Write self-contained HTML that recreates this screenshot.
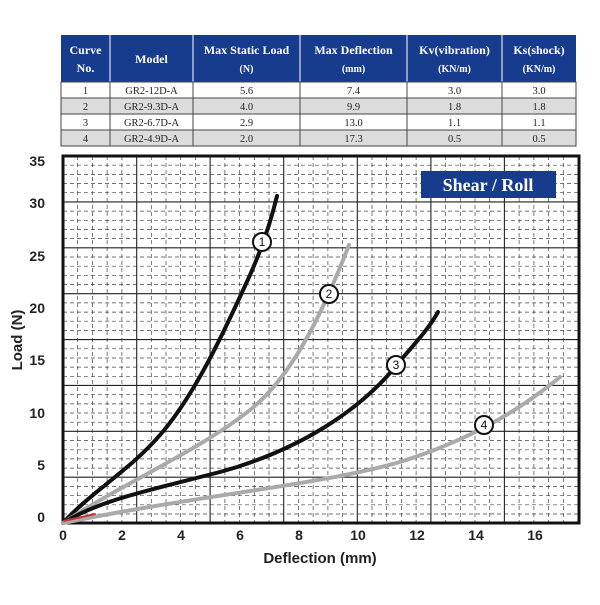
<!DOCTYPE html>
<html><head><meta charset="utf-8"><style>
body{margin:0;background:#fff;width:600px;height:600px;overflow:hidden}
</style></head><body>
<svg width="600" height="600" viewBox="0 0 600 600" xmlns="http://www.w3.org/2000/svg">
<!-- Table -->
<rect x="61" y="35" width="515" height="47" fill="#173c8e"/>
<rect x="61" y="98" width="515" height="16" fill="#dcdcdc"/>
<rect x="61" y="130" width="515" height="16" fill="#dcdcdc"/>
<g stroke="#fff" stroke-width="1">
<line x1="110" y1="35" x2="110" y2="82"/><line x1="193" y1="35" x2="193" y2="82"/><line x1="300" y1="35" x2="300" y2="82"/><line x1="407" y1="35" x2="407" y2="82"/><line x1="502" y1="35" x2="502" y2="82"/>
</g>
<g stroke="#444" stroke-width="1" fill="none">
<rect x="61" y="82" width="515" height="64"/>
<line x1="61" y1="98" x2="576" y2="98"/><line x1="61" y1="114" x2="576" y2="114"/><line x1="61" y1="130" x2="576" y2="130"/>
<line x1="110" y1="82" x2="110" y2="146"/><line x1="193" y1="82" x2="193" y2="146"/><line x1="300" y1="82" x2="300" y2="146"/><line x1="407" y1="82" x2="407" y2="146"/><line x1="502" y1="82" x2="502" y2="146"/>
</g>
<g font-family="Liberation Serif, serif" font-weight="bold" fill="#fff" text-anchor="middle" font-size="12">
<text x="85.5" y="54">Curve</text><text x="85.5" y="72">No.</text>
<text x="151.5" y="63">Model</text>
<text x="246.5" y="54">Max Static Load</text><text x="246.5" y="72" font-size="10">(N)</text>
<text x="353.5" y="54">Max Deflection</text><text x="353.5" y="72" font-size="10">(mm)</text>
<text x="454.5" y="54">Kv(vibration)</text><text x="454.5" y="72" font-size="10">(KN/m)</text>
<text x="539" y="54">Ks(shock)</text><text x="539" y="72" font-size="10">(KN/m)</text>
</g>
<g font-family="Liberation Serif, serif" fill="#222" text-anchor="middle" font-size="10.5">
<text x="85.5" y="94">1</text><text x="151.5" y="94">GR2-12D-A</text><text x="246.5" y="94">5.6</text><text x="353.5" y="94">7.4</text><text x="454.5" y="94">3.0</text><text x="539" y="94">3.0</text>
<text x="85.5" y="110">2</text><text x="151.5" y="110">GR2-9.3D-A</text><text x="246.5" y="110">4.0</text><text x="353.5" y="110">9.9</text><text x="454.5" y="110">1.8</text><text x="539" y="110">1.8</text>
<text x="85.5" y="126">3</text><text x="151.5" y="126">GR2-6.7D-A</text><text x="246.5" y="126">2.9</text><text x="353.5" y="126">13.0</text><text x="454.5" y="126">1.1</text><text x="539" y="126">1.1</text>
<text x="85.5" y="142">4</text><text x="151.5" y="142">GR2-4.9D-A</text><text x="246.5" y="142">2.0</text><text x="353.5" y="142">17.3</text><text x="454.5" y="142">0.5</text><text x="539" y="142">0.5</text>
</g>
<!-- Grid -->
<g stroke="#444" stroke-width="0.7" stroke-dasharray="4,3" fill="none">
<path d="M77.7 156V523M92.4 156V523M107.1 156V523M121.9 156V523M151.3 156V523M166 156V523M180.7 156V523M195.4 156V523M224.9 156V523M239.6 156V523M254.3 156V523M269 156V523M298.4 156V523M313.1 156V523M327.9 156V523M342.6 156V523M372 156V523M386.7 156V523M401.4 156V523M416.1 156V523M445.6 156V523M460.3 156V523M475 156V523M489.7 156V523M519.1 156V523M533.9 156V523M548.6 156V523M563.3 156V523"/>
<path d="M63 165.2H579M63 174.4H579M63 183.5H579M63 192.7H579M63 211.1H579M63 220.3H579M63 229.4H579M63 238.6H579M63 257H579M63 266.2H579M63 275.3H579M63 284.5H579M63 302.9H579M63 312.1H579M63 321.2H579M63 330.4H579M63 348.8H579M63 358H579M63 367.1H579M63 376.3H579M63 394.7H579M63 403.9H579M63 413H579M63 422.2H579M63 440.6H579M63 449.8H579M63 458.9H579M63 468.1H579M63 486.5H579M63 495.7H579M63 504.8H579M63 514H579"/>
</g>
<g stroke="#222" stroke-width="1.1" fill="none">
<path d="M136.7 156V523M210.1 156V523M283.7 156V523M357.3 156V523M430.9 156V523M504.4 156V523"/>
<path d="M63 201.9H579M63 247.8H579M63 293.7H579M63 339.6H579M63 385.4H579M63 431.3H579M63 477.2H579"/>
</g>
<rect x="63" y="156" width="516" height="367" fill="none" stroke="#111" stroke-width="3"/>
<!-- axis labels -->
<g font-family="Liberation Sans, sans-serif" font-weight="bold" font-size="14" fill="#222" text-anchor="end">
<text x="45" y="522">0</text><text x="45" y="470">5</text><text x="45" y="418">10</text><text x="45" y="365">15</text><text x="45" y="313">20</text><text x="45" y="261">25</text><text x="45" y="208">30</text><text x="45" y="166">35</text>
</g>
<g font-family="Liberation Sans, sans-serif" font-weight="bold" font-size="14" fill="#222" text-anchor="middle">
<text x="63" y="540">0</text><text x="122" y="540">2</text><text x="181" y="540">4</text><text x="240" y="540">6</text><text x="299" y="540">8</text><text x="358" y="540">10</text><text x="417" y="540">12</text><text x="476" y="540">14</text><text x="535" y="540">16</text>
<text x="320" y="563" font-size="15">Deflection (mm)</text>
<text transform="translate(22,340) rotate(-90)" font-size="15">Load (N)</text>
</g>
<!-- Title box -->
<rect x="421" y="171" width="135" height="27" fill="#173c8e"/>
<text x="488" y="191" font-family="Liberation Serif, serif" font-weight="bold" font-size="18" fill="#fff" text-anchor="middle">Shear / Roll</text>
<!-- curves -->
<g fill="none" stroke-linecap="round">
<path d="M63 523 C90 493,130 470,160 435 C195 395,225 330,250 275 C262 248,270 225,277 196" stroke="#111" stroke-width="4"/>
<path d="M63 523 C120 485,200 450,250 410 C290 378,320 320,349 245" stroke="#aaa" stroke-width="4"/>
<path d="M63 523 C100 500,150 490,220 472 C300 450,360 410,396 366 C415 343,428 330,438 312" stroke="#111" stroke-width="4"/>
<path d="M63 523 C200 495,320 485,400 462 C470 440,520 410,560 377" stroke="#aaa" stroke-width="4"/>
<path d="M64 521 L95 514" stroke="#c33" stroke-width="2"/>
</g>
<g font-family="Liberation Sans, sans-serif" font-size="12" fill="#111" text-anchor="middle" stroke-width="2">
<circle cx="262" cy="242" r="9" fill="#fff" stroke="#111"/><text x="262" y="246">1</text>
<circle cx="329" cy="294" r="9" fill="#fff" stroke="#111"/><text x="329" y="298">2</text>
<circle cx="396" cy="365" r="9" fill="#fff" stroke="#111"/><text x="396" y="369">3</text>
<circle cx="484" cy="425" r="9" fill="#fff" stroke="#111"/><text x="484" y="429">4</text>
</g>
</svg>
</body></html>
